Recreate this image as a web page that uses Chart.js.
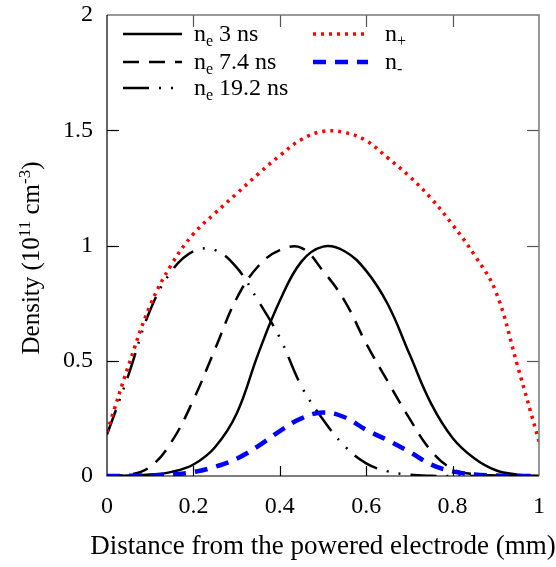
<!DOCTYPE html>
<html>
<head>
<meta charset="utf-8">
<script src="https://cdn.jsdelivr.net/npm/chart.js@4.4.1/dist/chart.umd.min.js"></script>
<style>
body { margin: 0; background: #fff; }
</style>
</head>
<body>
<canvas id="densityChart" width="556" height="567"></canvas>
<script>
// distance from the powered electrode (mm)
const distance = [0, 0.05, 0.1, 0.15, 0.2, 0.25, 0.3, 0.35, 0.4, 0.45, 0.5, 0.55, 0.6, 0.65, 0.7, 0.75, 0.8, 0.85, 0.9, 0.95, 1];
// densities (1e11 cm^-3)
const ne3 = [0, 0.002, 0.006, 0.018, 0.05, 0.125, 0.27, 0.53, 0.76, 0.93, 0.995, 0.975, 0.89, 0.745, 0.53, 0.315, 0.165, 0.077, 0.025, 0.006, 0];
const ne74 = [0, 0.005, 0.04, 0.15, 0.33, 0.55, 0.77, 0.91, 0.98, 0.99, 0.89, 0.76, 0.575, 0.41, 0.25, 0.11, 0.03, 0.008, 0.002, 0, 0];
const ne192 = [0.18, 0.44, 0.72, 0.89, 0.975, 0.98, 0.905, 0.76, 0.6, 0.39, 0.245, 0.13, 0.055, 0.02, 0.006, 0.001, 0, 0, 0, 0, 0];
const nPlus = [0.19, 0.48, 0.74, 0.92, 1.05, 1.14, 1.225, 1.31, 1.39, 1.46, 1.495, 1.49, 1.455, 1.38, 1.3, 1.205, 1.09, 0.96, 0.8, 0.48, 0.15];
const nMinus = [0, 0.001, 0.003, 0.007, 0.017, 0.04, 0.075, 0.13, 0.195, 0.25, 0.275, 0.255, 0.2, 0.155, 0.105, 0.05, 0.02, 0.007, 0.002, 0, 0];

const xTicks = [0, 0.2, 0.4, 0.6, 0.8, 1];
const yTicks = [0, 0.5, 1, 1.5, 2];

const FONT = '"Liberation Serif", "Times New Roman", serif';
Chart.defaults.font.family = FONT;
Chart.defaults.color = '#000';

function points(ys) {
    return distance.map((x, i) => ({ x: x, y: ys[i] }));
}

// draw text with sub/superscript parts, returns width
function richText(ctx, parts, x, y, size, dry) {
    let w = 0;
    parts.forEach(p => {
        const s = p.s ? Math.round(size * 0.68) : size;
        ctx.font = s + 'px ' + FONT;
        let dy = 0;
        if (p.s === 'sup') dy = -size * 0.38;
        if (p.s === 'sub') dy = size * 0.22;
        if (!dry) ctx.fillText(p.t, x + w, y + dy);
        w += ctx.measureText(p.t).width;
    });
    return w;
}

const decorations = {
    id: 'decorations',
    afterDraw(chart) {
        const ctx = chart.ctx;
        const a = chart.chartArea;
        const xs = chart.scales.x;
        const ys = chart.scales.y;
        ctx.save();

        // inner tick marks
        ctx.lineWidth = 1.2;
        xTicks.slice(1, -1).forEach(v => {
            const px = Math.round(xs.getPixelForValue(v)) + 0.5;
            ctx.beginPath();
            ctx.strokeStyle = '#000';
            ctx.moveTo(px, a.bottom);
            ctx.lineTo(px, a.bottom - 10);
            ctx.stroke();
            ctx.beginPath();
            ctx.strokeStyle = '#555';
            ctx.moveTo(px, a.top);
            ctx.lineTo(px, a.top + 12);
            ctx.stroke();
        });
        yTicks.slice(1, -1).forEach(v => {
            const py = Math.round(ys.getPixelForValue(v)) + 0.5;
            ctx.beginPath();
            ctx.strokeStyle = '#000';
            ctx.moveTo(a.left, py);
            ctx.lineTo(a.left + 12, py);
            ctx.stroke();
            ctx.beginPath();
            ctx.strokeStyle = '#555';
            ctx.moveTo(a.right, py);
            ctx.lineTo(a.right - 12, py);
            ctx.stroke();
        });

        // frame
        ctx.lineWidth = 1.5;
        ctx.strokeStyle = '#777';
        ctx.beginPath();
        ctx.moveTo(a.left, a.top);
        ctx.lineTo(a.right, a.top);
        ctx.lineTo(a.right, a.bottom);
        ctx.stroke();
        ctx.strokeStyle = '#000';
        ctx.lineWidth = 1.2;
        ctx.beginPath();
        ctx.moveTo(a.left, a.top);
        ctx.lineTo(a.left, a.bottom);
        ctx.lineTo(a.right, a.bottom);
        ctx.stroke();

        // legend
        ctx.fillStyle = '#000';
        ctx.textBaseline = 'alphabetic';
        const rows = [
            { ds: 4, x0: 123, x1: 182, tx: 194, y: 34, parts: [{ t: 'n' }, { t: 'e', s: 'sub' }, { t: ' 3 ns' }] },
            { ds: 3, x0: 123, x1: 182, tx: 194, y: 62, parts: [{ t: 'n' }, { t: 'e', s: 'sub' }, { t: ' 7.4 ns' }] },
            { ds: 2, x0: 123, x1: 182, tx: 194, y: 88, parts: [{ t: 'n' }, { t: 'e', s: 'sub' }, { t: ' 19.2 ns' }] },
            { ds: 1, x0: 313, x1: 368, tx: 385, y: 34, parts: [{ t: 'n' }, { t: '+', s: 'sub' }] },
            { ds: 0, x0: 313, x1: 368, tx: 385, y: 62, parts: [{ t: 'n' }, { t: '-', s: 'sub' }] }
        ];
        rows.forEach(r => {
            const d = chart.data.datasets[r.ds];
            ctx.save();
            ctx.strokeStyle = d.borderColor;
            ctx.lineWidth = d.borderWidth;
            ctx.setLineDash(d.borderDash || []);
            ctx.beginPath();
            ctx.moveTo(r.x0, r.y);
            ctx.lineTo(r.x1, r.y);
            ctx.stroke();
            ctx.restore();
            richText(ctx, r.parts, r.tx, r.y + 7, 24);
        });

        // axis titles
        ctx.font = '27px ' + FONT;
        ctx.textAlign = 'center';
        ctx.fillText('Distance from the powered electrode (mm)', (a.left + a.right) / 2, 554);

        ctx.textAlign = 'left';
        const yParts = [{ t: 'Density (10' }, { t: '11', s: 'sup' }, { t: ' cm' }, { t: '-3', s: 'sup' }, { t: ')' }];
        ctx.translate(39, 258);
        ctx.rotate(-Math.PI / 2);
        const w = richText(ctx, yParts, 0, 0, 25, true);
        richText(ctx, yParts, -w / 2, 0, 25);
        ctx.restore();
    }
};

new Chart(document.getElementById('densityChart'), {
    type: 'line',
    data: {
        datasets: [
            { label: 'n-', data: points(nMinus), borderColor: '#0000ff', borderWidth: 4.5, borderDash: [13, 9], order: 1 },
            { label: 'n+', data: points(nPlus), borderColor: '#ff0000', borderWidth: 3.5, borderDash: [3, 5], order: 2 },
            { label: 'ne 19.2 ns', data: points(ne192), borderColor: '#000', borderWidth: 2.5, borderDash: [26, 10, 2, 10, 2, 10], order: 3 },
            { label: 'ne 7.4 ns', data: points(ne74), borderColor: '#000', borderWidth: 2.5, borderDash: [16, 10], order: 4 },
            { label: 'ne 3 ns', data: points(ne3), borderColor: '#000', borderWidth: 2.5, order: 5 }
        ]
    },
    options: {
        responsive: false,
        animation: false,
        layout: { padding: { top: 15, right: 17, left: 0, bottom: 0 } },
        elements: {
            point: { radius: 0 },
            line: { tension: 0.4, fill: false }
        },
        plugins: {
            legend: { display: false },
            tooltip: { enabled: false }
        },
        scales: {
            x: {
                type: 'linear',
                min: 0,
                max: 1,
                afterBuildTicks: axis => { axis.ticks = xTicks.map(v => ({ value: v })); },
                afterFit: axis => {
                    axis.height = 91;
                    axis.paddingLeft = 0;
                    axis.paddingRight = 0;
                },
                grid: { display: false, drawTicks: false },
                border: { display: false },
                ticks: { font: { size: 24 }, padding: 16, maxRotation: 0, callback: v => String(v) }
            },
            y: {
                type: 'linear',
                min: 0,
                max: 2,
                afterBuildTicks: axis => { axis.ticks = yTicks.map(v => ({ value: v })); },
                afterFit: axis => {
                    axis.width = 107;
                    axis.paddingTop = 0;
                    axis.paddingBottom = 0;
                },
                grid: { display: false, drawTicks: false },
                border: { display: false },
                ticks: { font: { size: 24 }, padding: 14, callback: v => String(v) }
            }
        }
    },
    plugins: [decorations]
});
</script>
</body>
</html>
